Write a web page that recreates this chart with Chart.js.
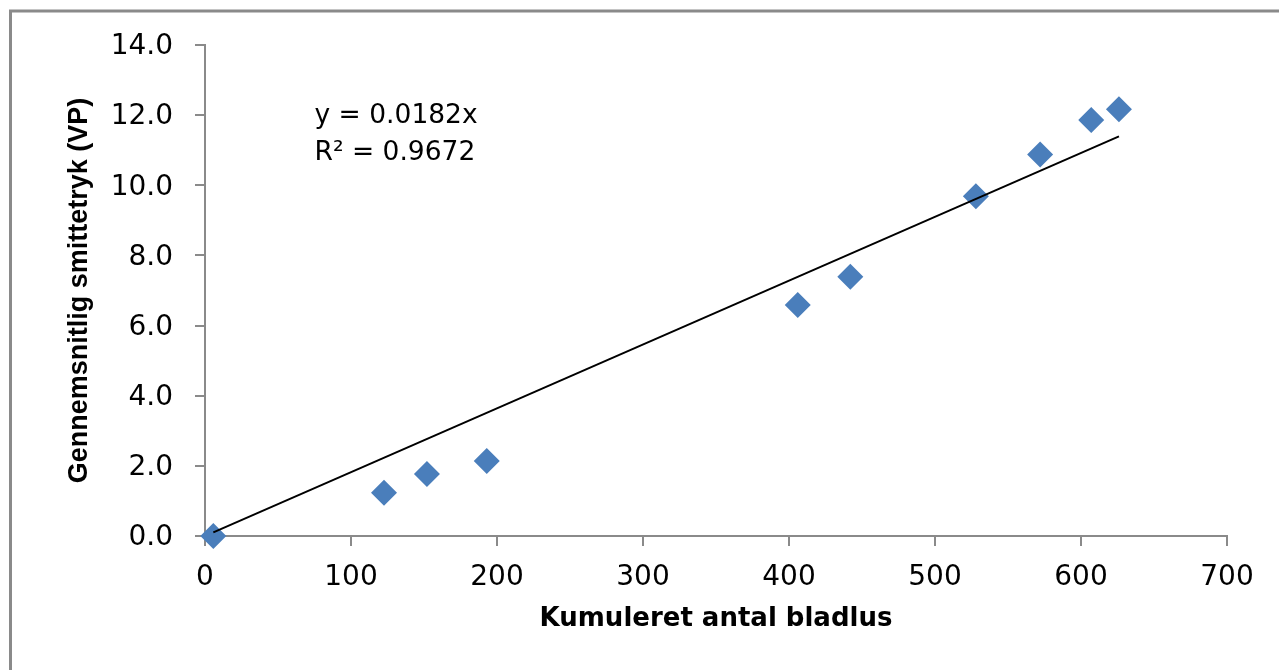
<!DOCTYPE html>
<html>
<head>
<meta charset="utf-8">
<script src="https://cdn.jsdelivr.net/npm/chart.js@4"></script>
<style>
  body { margin: 0; background: #fff; }
  canvas { display: block; }
</style>
</head>
<body>
<canvas id="myChart" width="1279" height="670"></canvas>
<script>
const ctx = document.querySelector("#myChart").getContext("2d");

// values
const aphids = [5.7, 122.6, 152, 193, 406, 442, 528, 572, 607, 626];
const pressure = [0.0, 1.23, 1.77, 2.14, 6.59, 7.39, 9.69, 10.88, 11.86, 12.17];
const slope = 0.0182;
const rSquared = 0.9672;
const xTicks = [0, 100, 200, 300, 400, 500, 600, 700];
const yTicks = [0, 2, 4, 6, 8, 10, 12, 14];

const points = aphids.map((x, i) => ({ x: x, y: pressure[i] }));
const xMin = Math.min(...aphids);
const xMax = Math.max(...aphids);
const trend = [
  { x: xMin, y: slope * xMin },
  { x: xMax, y: slope * xMax },
];

const grey = "#8a8a8a";

// outer frame and trendline label
const extras = {
  id: "extras",
  beforeDraw(chart) {
    const c = chart.ctx;
    c.save();
    c.strokeStyle = grey;
    c.lineWidth = 3;
    c.beginPath();
    c.moveTo(10.5, 672);
    c.lineTo(10.5, 11);
    c.lineTo(1285, 11);
    c.stroke();
    c.restore();
  },
  afterDraw(chart) {
    const c = chart.ctx;
    const px = chart.scales.x.getPixelForValue(75);
    const py = chart.scales.y.getPixelForValue(12.0);
    c.save();
    c.fillStyle = "#000";
    c.font = "26.5px 'DejaVu Sans'";
    c.textAlign = "left";
    c.textBaseline = "middle";
    c.fillText("y = " + slope + "x", px, py + 1);
    c.fillText("R\u00b2 = " + rSquared, px, py + 38);
    c.restore();
  },
};

const data = {
  datasets: [
    {
      type: "line",
      data: trend,
      borderColor: "#000",
      borderWidth: 2,
      pointRadius: 0,
      fill: false,
    },
    {
      type: "scatter",
      data: points,
      pointStyle: "rectRot",
      radius: 13,
      hoverRadius: 13,
      backgroundColor: "#4a7ebb",
      borderWidth: 0,
      clip: false,
    },
  ],
};

const config = {
  type: "scatter",
  data: data,
  plugins: [extras],
  options: {
    responsive: false,
    animation: false,
    devicePixelRatio: 1,
    layout: { padding: { top: 45, right: 52, left: 0, bottom: 0 } },
    plugins: { legend: { display: false }, tooltip: { enabled: false } },
    scales: {
      x: {
        type: "linear",
        min: 0,
        max: 700,
        afterBuildTicks: (scale) => {
          scale.ticks = xTicks.map((v) => ({ value: v }));
        },
        afterFit: (scale) => {
          scale.height = 134;
        },
        ticks: {
          color: "#000",
          padding: 15,
          font: { family: "DejaVu Sans", size: 28 },
        },
        grid: { drawOnChartArea: false, tickLength: 10, color: grey, lineWidth: 2 },
        border: { color: grey, width: 2 },
        title: {
          display: true,
          text: "Kumuleret antal bladlus",
          color: "#000",
          font: { family: "DejaVu Sans", size: 26, weight: "bold" },
          padding: { top: 0, bottom: 35 },
        },
      },
      y: {
        min: 0,
        max: 14,
        afterBuildTicks: (scale) => {
          scale.ticks = yTicks.map((v) => ({ value: v }));
        },
        afterFit: (scale) => {
          scale.width = 205;
        },
        ticks: {
          color: "#000",
          padding: 22,
          labelOffset: 2,
          font: { family: "DejaVu Sans", size: 28 },
          callback: (value) => value.toFixed(1),
        },
        grid: { drawOnChartArea: false, tickLength: 10, color: grey, lineWidth: 2 },
        border: { color: grey, width: 2 },
        title: {
          display: true,
          text: "Gennemsnitlig smittetryk (VP)",
          color: "#000",
          font: { family: "Liberation Sans", size: 27, weight: "bold" },
          padding: { top: 63, bottom: 0 },
        },
      },
    },
  },
};

const myChart = new Chart(ctx, config);
</script>
</body>
</html>
